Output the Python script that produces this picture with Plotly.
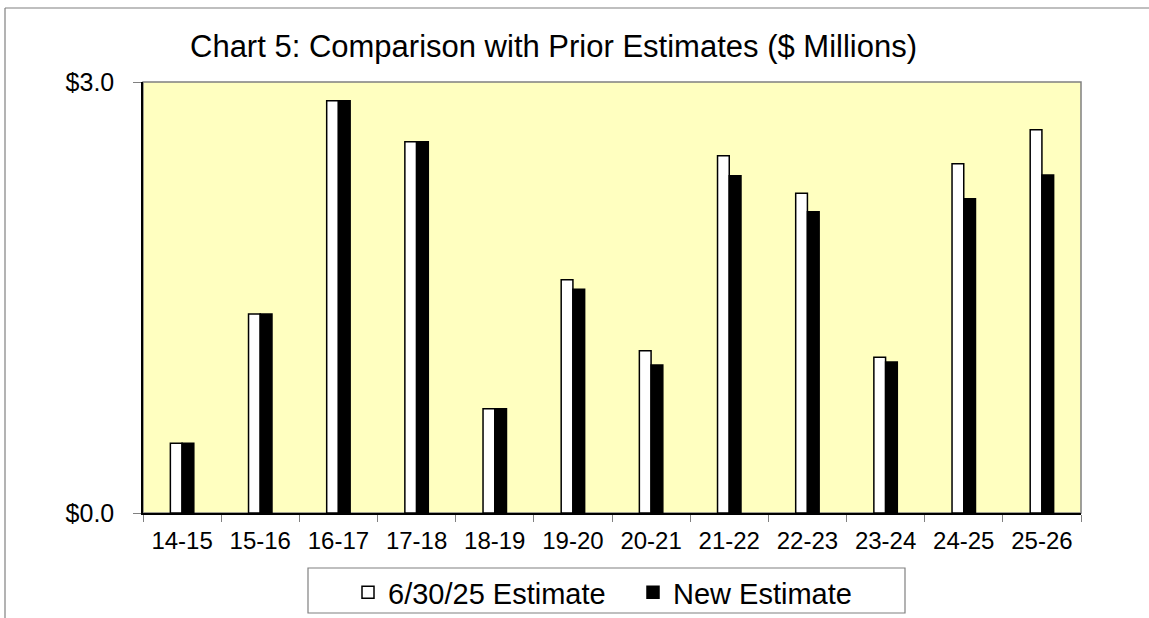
import plotly.graph_objects as go

# Fiscal years and the two sets of estimates ($ millions)
years = ["14-15", "15-16", "16-17", "17-18", "18-19", "19-20",
         "20-21", "21-22", "22-23", "23-24", "24-25", "25-26"]
prior_estimate = [0.485, 1.385, 2.870, 2.584, 0.726, 1.624,
                  1.130, 2.487, 2.225, 1.084, 2.431, 2.668]
new_estimate = [0.485, 1.385, 2.870, 2.584, 0.726, 1.557,
                1.030, 2.348, 2.097, 1.051, 2.188, 2.353]
y_tick_vals = [0.0, 3.0]
y_tick_text = ["$0.0", "$3.0"]

FONT = "Liberation Sans, Arial, sans-serif"
W, H = 1149, 618
L, R, T, B = 143, 68, 82, 105
plot_w = W - L - R
plot_h = H - T - B


def px_x(px):
    return (px - L) / plot_w


def px_y(py):
    return (H - B - py) / plot_h


fig = go.Figure()
fig.add_trace(go.Bar(
    x=years, y=prior_estimate, name="6/30/25 Estimate",
    marker=dict(color="white", line=dict(color="black", width=1.5)),
))
fig.add_trace(go.Bar(
    x=years, y=new_estimate, name="New Estimate",
    marker=dict(color="black", line=dict(color="black", width=1.5)),
))

shapes = [
    # plot area fill with grey frame
    dict(type="rect", xref="paper", yref="paper", x0=0, y0=0, x1=1, y1=1,
         fillcolor="#FFFFC0", line=dict(color="#808080", width=1.5), layer="below"),
    # outer chart frame (top and left edges)
    dict(type="line", xref="paper", yref="paper",
         x0=px_x(5), y0=px_y(8), x1=px_x(1160), y1=px_y(8),
         line=dict(color="#808080", width=1.2)),
    dict(type="line", xref="paper", yref="paper",
         x0=px_x(5), y0=px_y(8), x1=px_x(5), y1=px_y(640),
         line=dict(color="#808080", width=1.2)),
    # legend frame
    dict(type="rect", xref="paper", yref="paper",
         x0=px_x(308), y0=px_y(613), x1=px_x(905), y1=px_y(568),
         fillcolor="white", line=dict(color="#808080", width=1.2)),
]

fig.update_layout(
    width=W, height=H,
    margin=dict(l=L, r=R, t=T, b=B, autoexpand=False),
    paper_bgcolor="white",
    plot_bgcolor="#FFFFC0",
    barmode="group",
    bargap=0.70,
    bargroupgap=0,
    font=dict(family=FONT, color="black"),
    shapes=shapes,
    annotations=[dict(
        text="Chart 5: Comparison with Prior Estimates ($ Millions)",
        xref="paper", yref="paper", x=px_x(553), y=px_y(47),
        xanchor="center", yanchor="middle", showarrow=False,
        font=dict(family=FONT, size=31, color="black"),
    )],
    legend=dict(
        orientation="h",
        x=px_x(348), xanchor="left",
        y=px_y(567), yanchor="top",
        borderwidth=0,
        bgcolor="rgba(0,0,0,0)",
        font=dict(family=FONT, size=29, color="black"),
        itemwidth=30,
        entrywidth=240, entrywidthmode="pixels",
    ),
    showlegend=True,
)

fig.update_xaxes(
    type="category",
    showline=True, linecolor="black", linewidth=1.5,
    ticks="outside", tickson="boundaries", ticklen=7,
    tickcolor="#808080", tickwidth=1,
    ticklabelstandoff=5,
    tickfont=dict(family=FONT, size=24, color="black"),
    showgrid=False, zeroline=False,
)
fig.update_yaxes(
    range=[0, 3],
    tickvals=y_tick_vals, ticktext=y_tick_text,
    showline=True, linecolor="black", linewidth=1.5,
    ticks="outside", ticklen=8, tickcolor="#808080", tickwidth=1,
    ticklabelstandoff=14,
    tickfont=dict(family=FONT, size=25, color="black"),
    showgrid=False, zeroline=False,
)

fig.write_html("out.html")
